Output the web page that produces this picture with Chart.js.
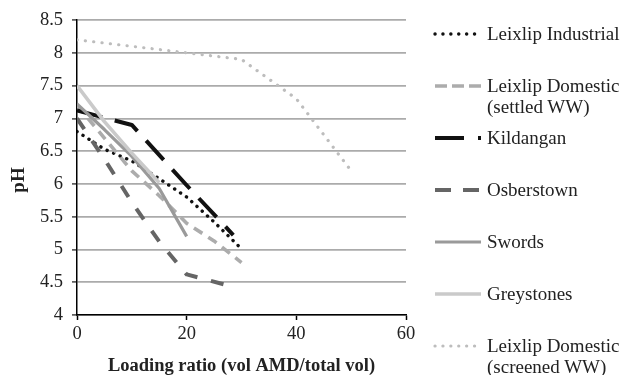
<!DOCTYPE html>
<html>
<head>
<meta charset="utf-8">
<script src="https://cdn.jsdelivr.net/npm/chart.js@4/dist/chart.umd.min.js"></script>
<style>
  html, body { margin: 0; padding: 0; background: #fff; }
  #wrap { position: relative; width: 624px; height: 375px; overflow: hidden; }
  #chartBox { position: absolute; left: 0; top: 0; width: 420px; height: 375px; }
  #legend { position: absolute; left: 0; top: 0; width: 624px; height: 375px; pointer-events: none; }
  .item { position: absolute; left: 433px; font-family: "Liberation Serif", "Times New Roman", serif;
          font-size: 19px; line-height: 21px; color: #222; }
  .item svg { position: absolute; left: 0; }
  .item span { position: absolute; left: 54px; top: -11px; white-space: nowrap; }
  #yTitle { position: absolute; left: 18px; top: 180px; width: 60px; height: 24px; margin: -12px 0 0 -30px;
            transform: rotate(-90deg); text-align: center; line-height: 24px;
            font-family: "Liberation Serif", "Times New Roman", serif; font-weight: bold; font-size: 19px; color: #222; }
</style>
</head>
<body>
<div id="wrap">
  <div id="chartBox"><canvas id="phChart"></canvas></div>
  <div id="yTitle">pH</div>
  <div id="legend"></div>
</div>
<script>
// Series names (legend order)
const seriesNames = [
    ['Leixlip Industrial'],
    ['Leixlip Domestic', '(settled WW)'],
    ['Kildangan'],
    ['Osberstown'],
    ['Swords'],
    ['Greystones'],
    ['Leixlip Domestic', '(screened WW)']
];

// Loading ratio (x) and pH (y) for each series
const xIndustrial = [0, 5, 10, 15, 20, 25, 29.5];
const phIndustrial = [6.8, 6.53, 6.35, 6.08, 5.8, 5.42, 5.05];

const xSettled = [0, 5, 10, 15, 20, 25, 30];
const phSettled = [7.2, 6.7, 6.2, 5.82, 5.4, 5.13, 4.8];

const xKildangan = [0, 10, 20, 28.5];
const phKildangan = [7.12, 6.9, 5.98, 5.22];

const xOsberstown = [0, 5, 10, 15, 20, 28];
const phOsberstown = [7.0, 6.38, 5.72, 5.12, 4.62, 4.44];

const xSwords = [0, 5, 10, 15, 20];
const phSwords = [7.22, 6.83, 6.42, 5.93, 5.2];

const xGreystones = [0, 5, 10, 15];
const phGreystones = [7.5, 6.95, 6.47, 6.02];

const xScreened = [0, 10, 20, 30, 40, 50];
const phScreened = [8.2, 8.1, 8.0, 7.9, 7.3, 6.2];

// Axis ticks
const xTicks = [0, 20, 40, 60];
const yTicks = [4, 4.5, 5, 5.5, 6, 6.5, 7, 7.5, 8, 8.5];

const allX = [xIndustrial, xSettled, xKildangan, xOsberstown, xSwords, xGreystones, xScreened];
const allY = [phIndustrial, phSettled, phKildangan, phOsberstown, phSwords, phGreystones, phScreened];

// line styles: chart dash, legend dash, colour, width
const styles = [
    { color: '#111111', width: 3.4, dash: [0.1, 7], cap: 'round', legendDash: '0.1 7.8' },
    { color: '#acacac', width: 3.6, dash: [10, 7], cap: 'butt', legendDash: '12 5' },
    { color: '#111111', width: 4, dash: [26, 13], cap: 'butt', legendDash: '29 14 3 20' },
    { color: '#656565', width: 4, dash: [13, 14], cap: 'butt', legendDash: '16 12' },
    { color: '#9a9a9a', width: 3.2, dash: [], cap: 'butt', legendDash: '' },
    { color: '#cacaca', width: 3.6, dash: [], cap: 'butt', legendDash: '' },
    { color: '#bdbdbd', width: 3.2, dash: [0.1, 8.3], cap: 'round', legendDash: '0.1 7.8' }
];

const serif = "'Liberation Serif', 'Times New Roman', serif";

const datasets = seriesNames.map((name, i) => ({
    label: name.join(' '),
    data: allX[i].map((x, k) => ({ x: x, y: allY[i][k] })),
    showLine: true,
    borderColor: styles[i].color,
    backgroundColor: styles[i].color,
    borderWidth: styles[i].width,
    borderDash: styles[i].dash,
    borderCapStyle: styles[i].cap,
    borderJoinStyle: 'round',
    pointRadius: 0,
    tension: 0,
    order: seriesNames.length - i
}));

new Chart(document.getElementById('phChart'), {
    type: 'scatter',
    data: { datasets: datasets },
    options: {
        responsive: true,
        maintainAspectRatio: false,
        animation: false,
        layout: { padding: { top: 19, right: 14, bottom: 0, left: 0 } },
        plugins: {
            legend: { display: false },
            tooltip: { enabled: false }
        },
        scales: {
            x: {
                type: 'linear',
                min: xTicks[0],
                max: xTicks[xTicks.length - 1],
                afterBuildTicks: (scale) => { scale.ticks = xTicks.map(v => ({ value: v })); },
                afterFit: (scale) => { scale.height = 60; },
                border: { color: '#000', width: 1.5 },
                grid: { drawOnChartArea: false, drawTicks: true, tickLength: 5, tickColor: '#000', tickWidth: 1.5 },
                ticks: { color: '#222', padding: 3, font: { family: serif, size: 18.5 }, callback: v => String(v) },
                title: {
                    display: true,
                    text: 'Loading ratio (vol AMD/total vol)',
                    color: '#222',
                    padding: { top: 0, bottom: 0 },
                    font: { family: serif, size: 18.5, weight: 'bold', lineHeight: 0.9 }
                }
            },
            y: {
                type: 'linear',
                min: yTicks[0],
                max: yTicks[yTicks.length - 1],
                afterBuildTicks: (scale) => { scale.ticks = yTicks.map(v => ({ value: v })); },
                afterFit: (scale) => { scale.width = 77; },
                border: { color: '#000', width: 1.5 },
                grid: { color: '#ababab', lineWidth: 1.8, drawTicks: true, tickLength: 5, tickColor: '#444', tickWidth: 1.5 },
                ticks: { color: '#222', padding: 9, font: { family: serif, size: 18.5 }, callback: v => String(v) }
            }
        }
    }
});

// HTML legend on the right
const legend = document.getElementById('legend');
seriesNames.forEach((name, i) => {
    const s = styles[i];
    const item = document.createElement('div');
    item.className = 'item';
    item.style.top = (34 + i * 52) + 'px';
    item.innerHTML =
        '<svg width="50" height="8" style="top:-4px">' +
        '<line x1="2" y1="4" x2="48" y2="4" stroke="' + s.color + '" stroke-width="' + s.width +
        '" stroke-linecap="' + s.cap + '"' + (s.legendDash ? ' stroke-dasharray="' + s.legendDash + '"' : '') + '/></svg>' +
        '<span>' + name.join('<br>') + '</span>';
    legend.appendChild(item);
});
</script>
</body>
</html>
